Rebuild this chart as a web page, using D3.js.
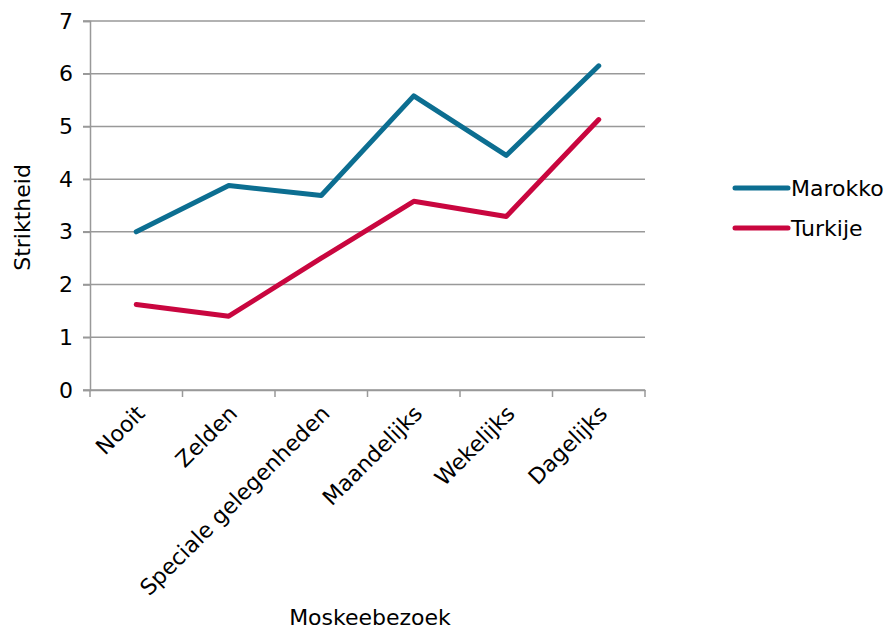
<!DOCTYPE html>
<html>
<head>
<meta charset="utf-8">
<script src="https://cdn.jsdelivr.net/npm/d3@7"></script>
<style>
  body { margin: 0; background: #fff; }
  text { font-family: "DejaVu Sans", Verdana, sans-serif; fill: #000; }
</style>
</head>
<body>
<div id="chart"></div>
<script>
let categories = ["Nooit", "Zelden", "Speciale gelegenheden", "Maandelijks", "Wekelijks", "Dagelijks"];
let marokko = [3.0, 3.88, 3.69, 5.58, 4.45, 6.15];
let turkije = [1.62, 1.40, 2.50, 3.58, 3.29, 5.13];
let yTicks = [0, 1, 2, 3, 4, 5, 6, 7];

let series = [
  { name: "Marokko", values: marokko, color: "#0c6e91" },
  { name: "Turkije", values: turkije, color: "#c9063f" }
];

let areaWidth = 893;
let areaHeight = 631;
let border = { top: 21, bottom: 241, left: 90, right: 248 };
let width = areaWidth - border.left - border.right;
let height = areaHeight - border.top - border.bottom;
let fontSize = 22;

let svg = d3.select("#chart").append("svg")
  .attr("width", areaWidth)
  .attr("height", areaHeight);

let plotGroup = svg.append("g")
  .attr("transform", `translate(${border.left}, ${border.top})`);

let xScale = d3.scaleBand().domain(categories).range([0, width]).padding(0);
let yScale = d3.scaleLinear().domain([0, 7]).range([height, 0]);

// gridlines
plotGroup.append("g")
  .selectAll("line").data(yTicks).enter().append("line")
  .attr("x1", -7).attr("x2", width)
  .attr("y1", d => yScale(d)).attr("y2", d => yScale(d))
  .attr("stroke", "#999").attr("stroke-width", 1.5);

// y axis
let leftAx = d3.axisLeft(yScale).tickValues(yTicks).tickFormat(d3.format("d")).tickSize(7).tickPadding(10);
let yAx = plotGroup.append("g").call(leftAx);
yAx.select(".domain").attr("stroke", "#999").attr("stroke-width", 1.5);
yAx.selectAll(".tick line").attr("stroke", "#999").attr("stroke-width", 1.5);
yAx.selectAll(".tick text").attr("font-size", fontSize + "px")
  .style("font-family", "'DejaVu Sans', Verdana, sans-serif");

// x axis
let bottomAx = d3.axisBottom(xScale).tickSize(0).tickFormat("");
let xAx = plotGroup.append("g").attr("transform", `translate(0, ${height})`).call(bottomAx);
xAx.select(".domain").attr("stroke", "#999").attr("stroke-width", 1.5);

let tickEdges = categories.map(c => xScale(c)).concat([width]);
xAx.selectAll(".edge").data(tickEdges).enter().append("line")
  .attr("x1", d => d).attr("x2", d => d)
  .attr("y1", 0).attr("y2", 7)
  .attr("stroke", "#999").attr("stroke-width", 1.5);

xAx.selectAll(".cat").data(categories).enter().append("text")
  .attr("transform", d => `translate(${xScale(d) + xScale.bandwidth() / 2 - 1}, 14) rotate(-45)`)
  .attr("text-anchor", "end")
  .attr("dy", "0.7em")
  .attr("font-size", fontSize + "px")
  .text(d => d);

// lines
let line = d3.line()
  .x((d, i) => xScale(categories[i]) + xScale.bandwidth() / 2)
  .y(d => yScale(d));

plotGroup.selectAll(".series").data(series).enter().append("path")
  .attr("d", d => line(d.values))
  .attr("fill", "none")
  .attr("stroke", d => d.color)
  .attr("stroke-width", 5)
  .attr("stroke-linecap", "round")
  .attr("stroke-linejoin", "round");

// axis titles
svg.append("text")
  .attr("transform", `translate(30, ${border.top + height / 2 + 12}) rotate(-90)`)
  .attr("text-anchor", "middle")
  .attr("font-size", fontSize + "px")
  .text("Striktheid");

svg.append("text")
  .attr("x", 370).attr("y", 625)
  .attr("text-anchor", "middle")
  .attr("font-size", fontSize + "px")
  .text("Moskeebezoek");

// legend
let legend = svg.append("g").attr("transform", "translate(735, 188)");
let items = legend.selectAll("g").data(series).enter().append("g")
  .attr("transform", (d, i) => `translate(0, ${i * 40})`);
items.append("line")
  .attr("x1", 0).attr("x2", 53)
  .attr("stroke", d => d.color).attr("stroke-width", 5)
  .attr("stroke-linecap", "round");
items.append("text")
  .attr("x", 56).attr("dy", "0.35em")
  .attr("font-size", fontSize + "px")
  .text(d => d.name);
</script>
</body>
</html>
